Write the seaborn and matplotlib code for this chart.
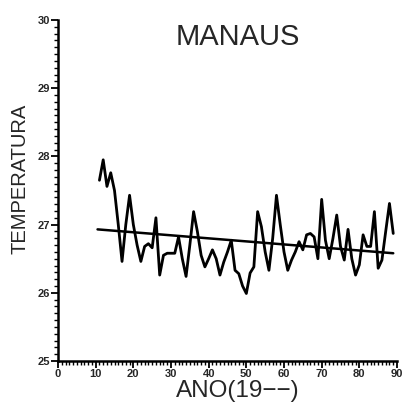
import matplotlib
matplotlib.use("Agg")
import matplotlib.pyplot as plt
import seaborn as sns
import pandas as pd
from matplotlib.ticker import MultipleLocator

years = list(range(11, 90))
temperature = [
    27.65, 27.95, 27.56, 27.76, 27.50, 27.00, 26.46, 27.00, 27.43, 27.00,
    26.70, 26.46, 26.68, 26.72, 26.66, 27.10, 26.26, 26.55, 26.58, 26.58,
    26.58, 26.82, 26.50, 26.24, 26.70, 27.19, 26.90, 26.55, 26.38, 26.50,
    26.63, 26.50, 26.26, 26.45, 26.60, 26.77, 26.33, 26.28, 26.10, 25.99,
    26.29, 26.38, 27.19, 26.97, 26.60, 26.33, 26.80, 27.43, 27.00, 26.60,
    26.33, 26.48, 26.60, 26.75, 26.63, 26.85, 26.87, 26.82, 26.50, 27.37,
    26.77, 26.50, 26.80, 27.14, 26.68, 26.48, 26.93, 26.50, 26.26, 26.41,
    26.85, 26.68, 26.68, 27.19, 26.36, 26.48, 26.90, 27.31, 26.87,
]
trend_years = [10.5, 89]
trend_values = [26.93, 26.58]
x_ticks = [0, 10, 20, 30, 40, 50, 60, 70, 80, 90]
y_ticks = [25, 26, 27, 28, 29, 30]

sns.set_theme(style="ticks")
plt.rcParams['font.family'] = ['Liberation Sans', 'DejaVu Sans']

fig = plt.figure(figsize=(4.09, 4.07), dpi=100)
ax = fig.add_axes([58/409, 1 - 361/407, (397-58)/409, (361-20)/407])

df = pd.DataFrame({"ano": years, "temp": temperature})
tr = pd.DataFrame({"ano": trend_years, "temp": trend_values})
sns.lineplot(data=df, x="ano", y="temp", ax=ax, color="black", linewidth=2.0)
sns.lineplot(data=tr, x="ano", y="temp", ax=ax, color="black", linewidth=1.8)

ax.set_xlim(0, 90)
ax.set_ylim(25, 30)
ax.set_xticks(x_ticks)
ax.set_yticks(y_ticks)
ax.xaxis.set_minor_locator(MultipleLocator(1))
ax.yaxis.set_minor_locator(MultipleLocator(0.1))
ax.tick_params(which="major", length=5, width=1.3, color="black", direction="out",
               labelsize=8, pad=1)
ax.tick_params(which="minor", length=3, width=1.0, color="black", direction="out")
for lab in ax.get_xticklabels() + ax.get_yticklabels():
    lab.set_fontweight("bold")

for s in ["top", "right"]:
    ax.spines[s].set_visible(False)
for s in ["left", "bottom"]:
    ax.spines[s].set_linewidth(1.8)
    ax.spines[s].set_color("black")

ax.set_xlabel("ANO(19\u2212\u2212)", fontsize=17.5)
ax.xaxis.set_label_coords(0.53, -0.057)
ax.xaxis.label.set_va("top")
ax.set_ylabel("TEMPERATURA", fontsize=14.5)
ax.yaxis.set_label_coords(-0.085, 0.535)
ax.text(0.53, 0.99, "MANAUS", transform=ax.transAxes, ha="center", va="top",
        fontsize=21)

fig.savefig("out.png", dpi=100, facecolor="white")
